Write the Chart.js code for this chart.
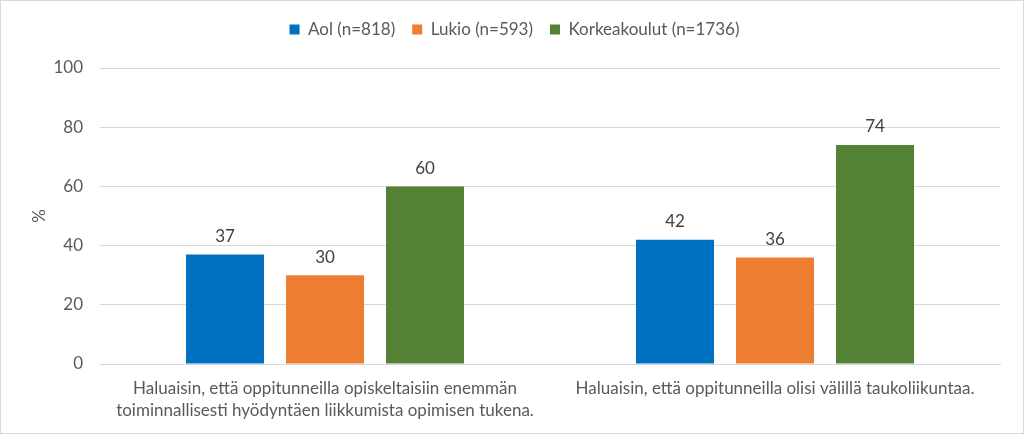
<!DOCTYPE html>
<html><head><meta charset="utf-8">
<script src="https://cdn.jsdelivr.net/npm/chart.js@4"></script>
<style>
html,body{margin:0;padding:0;background:#fff;}
#wrap{width:1022px;height:432px;border:1px solid #d9d9d9;}
</style></head>
<body><div id="wrap"><canvas id="c" width="1022" height="432"></canvas></div>
<script>
const categories = [
  ["Haluaisin, että oppitunneilla opiskeltaisiin enemmän", "toiminnallisesti hyödyntäen liikkumista opimisen tukena."],
  ["Haluaisin, että oppitunneilla olisi välillä taukoliikuntaa."]
];
const seriesNames = ["Aol (n=818)", "Lukio (n=593)", "Korkeakoulut (n=1736)"];
const aolValues = [37, 42];
const lukioValues = [30, 36];
const korkeakoulutValues = [60, 74];
const yTicks = [0, 20, 40, 60, 80, 100];
const colors = ["#0070C0", "#ED7D31", "#548235"];
const FONT = "Lato, 'Open Sans', sans-serif";
const FS = 17;

const labelPlugin = {
  id: 'valueLabels',
  afterInit(chart) {
    if (chart.legend) {
      const orig = chart.legend.fit;
      chart.legend.fit = function() { orig.call(this); this.height += 20; };
    }
  },
  afterDatasetsDraw(chart) {
    const ctx = chart.ctx;
    ctx.save();
    ctx.font = FS + "px " + FONT;
    ctx.fillStyle = "#404040";
    ctx.textAlign = "center";
    ctx.textBaseline = "middle";
    chart.data.datasets.forEach((ds, i) => {
      chart.getDatasetMeta(i).data.forEach((bar, j) => {
        ctx.fillText(String(ds.data[j]), bar.x, bar.y - 18);
      });
    });
    ctx.restore();
  }
};

new Chart(document.getElementById('c'), {
  type: 'bar',
  data: {
    labels: categories,
    datasets: [
      {label: seriesNames[0], data: aolValues, backgroundColor: colors[0]},
      {label: seriesNames[1], data: lukioValues, backgroundColor: colors[1]},
      {label: seriesNames[2], data: korkeakoulutValues, backgroundColor: colors[2]}
    ]
  },
  options: {
    responsive: false,
    animation: false,
    devicePixelRatio: 1,
    layout: {padding: {left: 28, right: 23, top: 3, bottom: 0}},
    datasets: {bar: {categoryPercentage: 0.6667, barPercentage: 0.78}},
    plugins: {
      legend: {
        position: 'top',
        labels: {
          boxWidth: 10, boxHeight: 10, padding: 17,
          color: "#595959",
          font: {family: FONT, size: FS}
        }
      },
      tooltip: {enabled: false}
    },
    scales: {
      x: {
        grid: {display: false, drawTicks: false},
        border: {color: "#d9d9d9"},
        ticks: {color: "#595959", font: {family: FONT, size: FS, lineHeight: 1.3}, padding: 13, maxRotation: 0},
        afterFit(s) { s.height = 69; }
      },
      y: {
        min: 0, max: 100,
        afterBuildTicks(s) { s.ticks = yTicks.map(v => ({value: v})); },
        grid: {color: "#d9d9d9", drawTicks: false},
        border: {display: false},
        ticks: {color: "#595959", font: {family: FONT, size: FS}, padding: 17},
        title: {display: true, text: "%", color: "#595959", font: {family: FONT, size: FS}, padding: {top: 0, bottom: 0}},
        afterFit(s) { s.width = 71; }
      }
    }
  },
  plugins: [labelPlugin]
});
</script></body></html>
